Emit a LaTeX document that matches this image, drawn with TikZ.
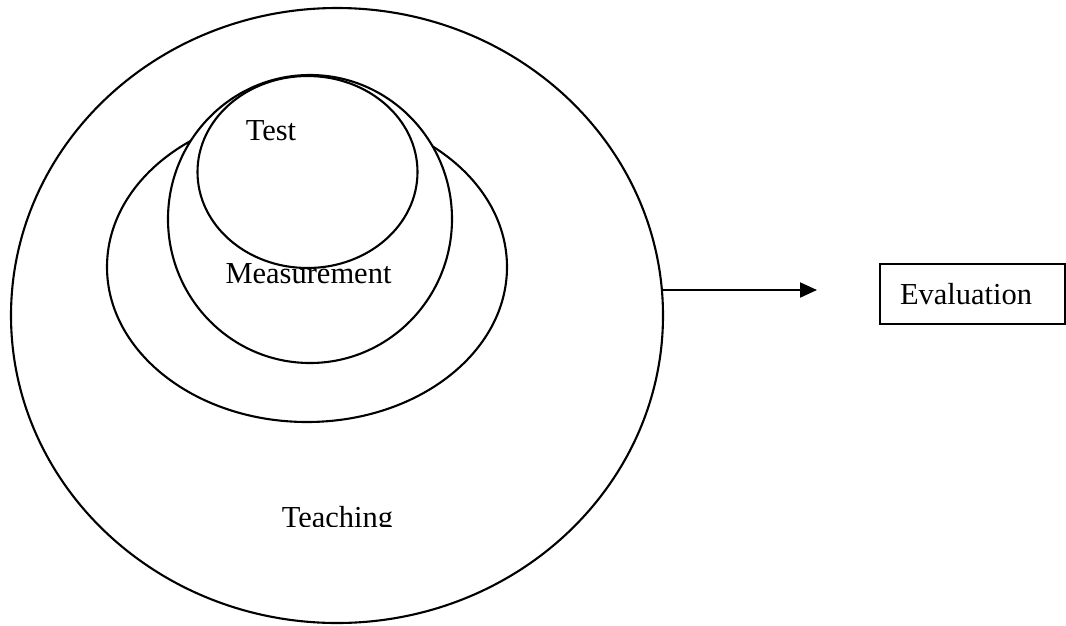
\documentclass[tikz,border=0pt]{standalone}
\usepackage{fontspec}
\setmainfont{Liberation Serif}
\usetikzlibrary{shapes.geometric,arrows.meta}
\begin{document}
\begin{tikzpicture}[x=1pt,y=-1pt,
  ring/.style={draw=black,fill=white,line width=2.1pt,ellipse,inner sep=0pt},
  lbl/.style={font=\fontsize{30.5}{36}\selectfont,inner sep=0pt,anchor=base},
  evalbox/.style={draw=black,line width=2.1pt,rectangle,minimum height=60pt,inner ysep=0pt,inner xsep=20pt,text width=145pt,align=left,font=\fontsize{30.5}{36}\selectfont},
  conn/.style={line width=2.1pt,-{Triangle[length=17pt,width=15pt]}}]
\useasboundingbox (0,0) rectangle (1066,625);
\node[ring,minimum width=652pt,minimum height=615pt] (teach) at (337,315.5) {};
\node[ring,minimum width=400pt,minimum height=310pt] (mid) at (307,267) {};
\node[ring,minimum width=284pt,minimum height=288pt] (meas) at (310,219) {};
\node[ring,minimum width=220pt,minimum height=192pt] (test) at (307.5,172) {};
\node[lbl] (testlbl) at (271,140) {Test};
\node[lbl] (measlbl) at (308.5,283) {Measurement};
\begin{scope}
\clip (200,480) rectangle (480,526);
\node[lbl] (teachlbl) at (337.5,527) {Teaching};
\end{scope}
\node[evalbox] (eval) at (972.5,294) {Evaluation};
\coordinate (arrowstart) at (662,290);
\coordinate (arrowend) at (817,290);
\draw[conn] (arrowstart) -- (arrowend);
\end{tikzpicture}
\end{document}
